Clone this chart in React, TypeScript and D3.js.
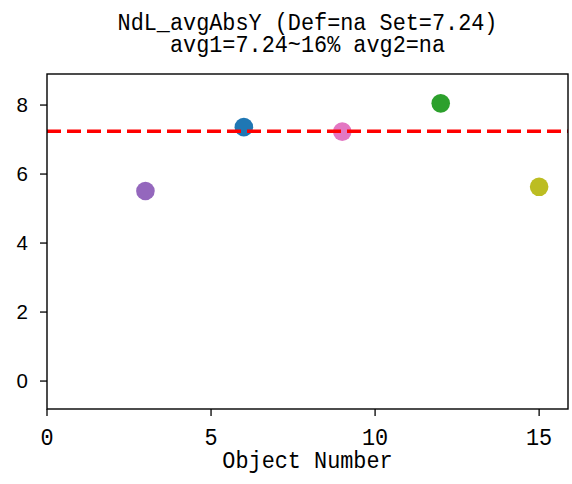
import * as React from 'react';
import * as d3 from 'd3';

// chart data
const objectNumbers: number[] = [3, 6, 9, 12, 15];
const avgAbsY: number[] = [5.51, 7.36, 7.23, 8.05, 5.63];
const pointColors: string[] = ['#9467bd', '#1f77b4', '#e377c2', '#2ca02c', '#bcbd22'];
const setValue = 7.24;
const xTicks: number[] = [0, 5, 10, 15];
const yTicks: number[] = [0, 2, 4, 6, 8];
const titleLines: string[] = ['NdL_avgAbsY (Def=na Set=7.24)', 'avg1=7.24~16% avg2=na'];
const xLabel = 'Object Number';

const W = 572;
const H = 484;
const margin = { left: 47, right: 4, top: 74, bottom: 75 };
const mono = '"Liberation Mono", "DejaVu Sans Mono", monospace';
const sans = '"Liberation Sans", Arial, sans-serif';
const charW = 13.1; // advance of one narrow glyph in the reference
const monoSize = 23;

// monospace text squeezed to the narrow, tall look of the reference font
const Mono: React.FC<{ x: number; y: number; text: string }> = ({ x, y, text }) => (
    <text x={x} y={y} textAnchor="middle" fontFamily={mono} fontSize={monoSize} fill="#000"
        textLength={text.length * charW} lengthAdjust="spacingAndGlyphs">{text}</text>
);

const App: React.FC = () => {
    const x = d3.scaleLinear().domain([0, 15.88]).range([margin.left, W - margin.right]);
    const y = d3.scaleLinear().domain([-0.81, 8.9]).range([H - margin.bottom, margin.top]);

    const [x0, x1] = x.range();
    const [yb, yt] = y.range();
    const cx = (x0 + x1) / 2;

    const refLine = d3.line<number>()
        .x((d) => d)
        .y(() => y(setValue));

    return (
        <svg width={W} height={H} style={{ position: 'absolute', left: 0, top: 0, background: '#fff' }}>
            {/* title */}
            {titleLines.map((t, i) => (
                <Mono key={t} x={cx} y={30 + i * 21.5} text={t} />
            ))}

            {/* points */}
            {objectNumbers.map((n, i) => (
                <circle key={n} cx={x(n)} cy={y(avgAbsY[i])} r={9.3} fill={pointColors[i]} />
            ))}

            {/* set value line */}
            <path d={refLine([x0, x1]) || ''} stroke="#ff0000" strokeWidth={3.5}
                strokeDasharray="14 6" fill="none" />

            {/* frame */}
            <rect x={x0} y={yt} width={x1 - x0} height={yb - yt} fill="none" stroke="#000" strokeWidth={1.4} />

            {/* x axis */}
            {xTicks.map((t) => (
                <g key={t}>
                    <line x1={x(t)} x2={x(t)} y1={yb} y2={yb + 7} stroke="#000" strokeWidth={1.3} />
                    <Mono x={x(t)} y={yb + 36} text={String(t)} />
                </g>
            ))}
            <Mono x={cx} y={468} text={xLabel} />

            {/* y axis */}
            {yTicks.map((t) => (
                <g key={t}>
                    <line x1={x0} x2={x0 - 7} y1={y(t)} y2={y(t)} stroke="#000" strokeWidth={1.3} />
                    <text x={x0 - 19} y={y(t)} dy="0.36em" textAnchor="end" fontFamily={sans} fontSize={20.5} fill="#000">{t}</text>
                </g>
            ))}
        </svg>
    );
};

export default App;
